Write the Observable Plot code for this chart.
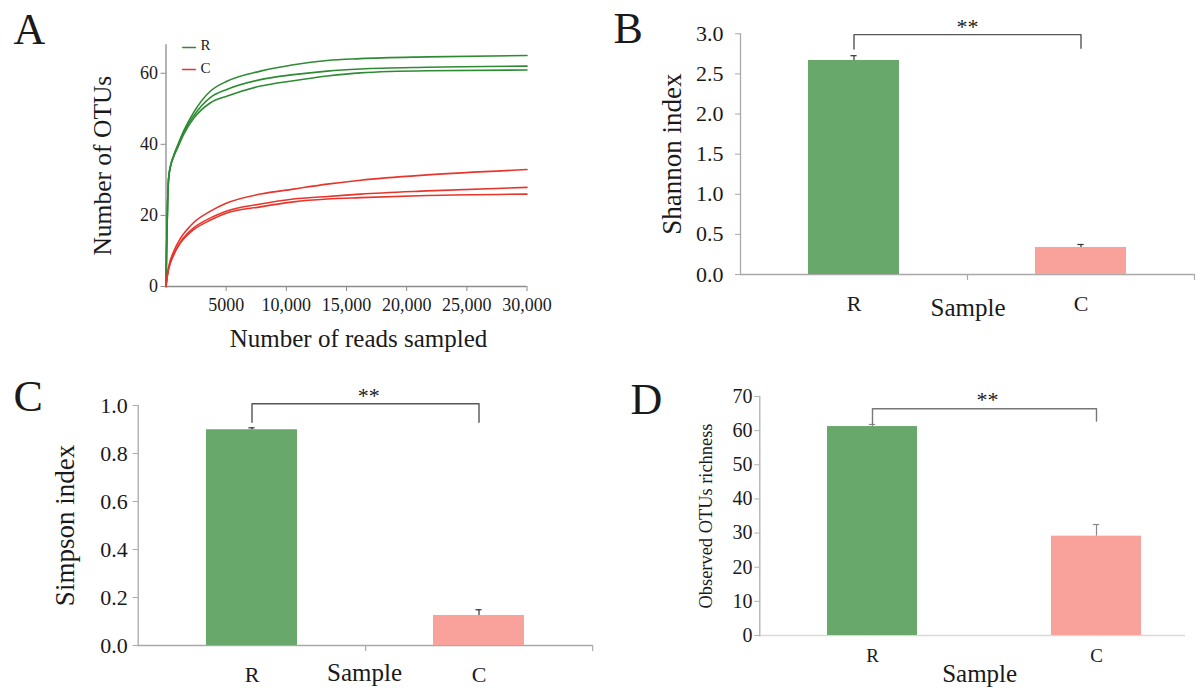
<!DOCTYPE html>
<html><head><meta charset="utf-8">
<script src="https://cdn.jsdelivr.net/npm/d3@7"></script>
<script src="https://cdn.jsdelivr.net/npm/@observablehq/plot@0.6"></script>
<style>
body{margin:0;background:#fff;}
#fig{position:relative;width:1199px;height:688px;overflow:hidden;background:#fff;}
#fig svg{position:absolute;overflow:visible;}
</style></head><body><div id="fig"></div>
<script>
// ---------- Panel A: rarefaction curves ----------
const groups = ["R", "C"];
const groupColors = ["#2e8b33", "#e8352c"];
const readsR = [0, 60, 130, 220, 400, 630, 1000, 1500, 2300, 3700, 5100, 7850, 10600, 13400, 16150, 21700, 30000];
const otusR1 = [0, 12, 23, 30.5, 34.2, 36.8, 40, 44, 49, 55, 57.8, 60.6, 62.4, 63.6, 64.1, 64.6, 65];
const otusR2 = [0, 12, 23, 30.5, 34.2, 36.6, 39.6, 43.5, 48, 53.2, 55.5, 58.2, 59.6, 60.6, 61.2, 61.7, 62];
const otusR3 = [0, 12, 23, 30.5, 34.2, 36.5, 39.3, 43, 47.3, 51.7, 53.6, 56.4, 57.9, 59.2, 60.1, 60.7, 60.9];
const readsC = [0, 100, 220, 630, 1190, 1750, 2300, 3700, 5000, 7850, 10600, 13400, 16150, 21700, 30000];
const otusC1 = [0, 3, 5.5, 9.8, 13.5, 16, 18, 21.2, 23.4, 26, 27.4, 28.8, 29.9, 31.4, 32.9];
const otusC2 = [0, 2.8, 5, 9, 12.5, 14.8, 16.5, 19.3, 21.2, 23.2, 24.6, 25.3, 26, 26.9, 27.9];
const otusC3 = [0, 2.8, 5, 8.8, 12.2, 14.4, 16, 18.7, 20.6, 22.4, 23.8, 24.6, 25, 25.6, 26];
const xTicksA = [5000, 10000, 15000, 20000, 25000, 30000];
const xTickLabelsA = ["5000", "10,000", "15,000", "20,000", "25,000", "30,000"];
const yTicksA = [0, 20, 40, 60];

// ---------- Panels B, C, D: alpha diversity bars ----------
const samples = ["R", "C"];
const barColors = ["#69a86b", "#f8a29b"];
const shannonMean = [2.668, 0.337];
const shannonUpper = [2.727, 0.374];
const shannonTicks = [0, 0.5, 1, 1.5, 2, 2.5, 3];
const shannonTickLabels = ["0.0", "0.5", "1.0", "1.5", "2.0", "2.5", "3.0"];
const shannonBracket = {top: 2.99, legs: [2.81, 2.82]};

const simpsonMean = [0.899, 0.125];
const simpsonUpper = [0.907, 0.149];
const simpsonTicks = [0, 0.2, 0.4, 0.6, 0.8, 1.0];
const simpsonTickLabels = ["0.0", "0.2", "0.4", "0.6", "0.8", "1.0"];
const simpsonBracket = {top: 1.007, legs: [0.93, 0.93]};

const richMean = [61.2, 29.1];
const richUpper = [61.8, 32.5];
const richTicks = [0, 10, 20, 30, 40, 50, 60, 70];
const richTickLabels = ["0", "10", "20", "30", "40", "50", "60", "70"];
const richBracket = {top: 66.4, legs: [62, 62.8]};

const FONT = "'Liberation Serif', 'Times New Roman', Times, serif";
const TEXT = "#1a1a1a";
const fig = document.getElementById("fig");

function place(svg, left, top) {
  svg.style.left = left + "px";
  svg.style.top = top + "px";
  fig.appendChild(svg);
}

// ---- Panel A ----
const curves = [];
[[readsR, otusR1, "R", 1], [readsR, otusR2, "R", 2], [readsR, otusR3, "R", 3],
 [readsC, otusC1, "C", 1], [readsC, otusC2, "C", 2], [readsC, otusC3, "C", 3]].forEach(([xs, ys, g, k]) => {
  xs.forEach((x, i) => curves.push({group: g, id: g + k, reads: x, otus: ys[i]}));
});

const legendMarks = [];
groups.forEach((g, i) => {
  legendMarks.push(Plot.text(["\u2014"], {frameAnchor: "top-left", dx: 16.5, dy: 0.7 + i * 22.4, textAnchor: "start", lineAnchor: "middle", fontSize: 13, fill: groupColors[i], stroke: groupColors[i], strokeWidth: 0.8}));
  legendMarks.push(Plot.text([g], {frameAnchor: "top-left", dx: 34.5, dy: 0.7 + i * 22.4, textAnchor: "start", lineAnchor: "middle", fontSize: 15, fill: TEXT}));
});

const plotA = Plot.plot({
  width: 600, height: 350,
  marginLeft: 165.5, marginRight: 73.5, marginTop: 44.3, marginBottom: 64,
  style: {fontFamily: FONT, background: "transparent", color: TEXT, overflow: "visible"},
  x: {domain: [0, 30000]},
  y: {domain: [0, 68]},
  color: {domain: groups, range: groupColors},
  marks: [
    Plot.ruleX([0], {stroke: "#8c8c8c", strokeWidth: 1.3}),
    Plot.ruleY([0], {stroke: "#8c8c8c", strokeWidth: 1.3}),
    Plot.line(curves, {x: "reads", y: "otus", z: "id", stroke: "group", strokeWidth: 1.6, curve: "monotone-x"}),
    Plot.axisY({ticks: yTicksA, tickSize: 5, tickPadding: 3, fontSize: 18, stroke: "#8c8c8c", label: null}),
    Plot.axisX({ticks: xTicksA, tickFormat: d => xTickLabelsA[xTicksA.indexOf(d)], tickSize: 5, tickPadding: 6.4, fontSize: 18, stroke: "#8c8c8c", label: null}),
    ...legendMarks,
    Plot.text(["A"], {frameAnchor: "top-left", dx: -152.5, dy: -1, textAnchor: "start", lineAnchor: "bottom", fontSize: 44, fill: TEXT}),
    Plot.text(["Number of OTUs"], {frameAnchor: "left", dx: -55.5, rotate: -90, textAnchor: "middle", lineAnchor: "bottom", fontSize: 25.5, fill: TEXT}),
    Plot.text(["Number of reads sampled"], {frameAnchor: "bottom", dx: 12, dy: 60, textAnchor: "middle", lineAnchor: "bottom", fontSize: 25, fill: TEXT})
  ]
});
place(plotA, 0, 0);

// ---- Bar panels ----
function barPanel(c) {
  const rows = samples.map((s, i) => ({sample: s, mean: c.means[i], upper: c.uppers[i]}));
  const innerW = c.w - c.mL - c.mR;
  const step = innerW / (samples.length - c.pi + 2 * c.po);
  const bandW = step * (1 - c.pi);
  const capInset = (bandW - 6) / 2;
  const br = [
    {sample: samples[0], y: c.bracket.legs[0]},
    {sample: samples[0], y: c.bracket.top},
    {sample: samples[1], y: c.bracket.top},
    {sample: samples[1], y: c.bracket.legs[1]}
  ];
  return Plot.plot({
    width: c.w, height: c.h,
    marginLeft: c.mL, marginRight: c.mR, marginTop: c.mT, marginBottom: c.mB,
    style: {fontFamily: FONT, background: "transparent", color: TEXT, overflow: "visible"},
    x: {type: "band", domain: samples, paddingInner: c.pi, paddingOuter: c.po, align: c.align},
    y: {domain: c.yDomain},
    color: {domain: samples, range: barColors},
    marks: [
      Plot.ruleY([0], {stroke: c.xAxisColor, strokeWidth: 1.5}),
      c.midTicks ? Plot.ruleX(samples, {x: d => d, y1: () => 0, y2: () => 0, insetBottom: -6, dx: step / 2, stroke: c.xAxisColor, strokeWidth: 1.2}) : null,
      Plot.frame({anchor: "left", stroke: c.yAxisColor, strokeWidth: 1.3}),
      Plot.barY(rows, {x: "sample", y: "mean", fill: "sample"}),
      Plot.ruleX(rows, {x: "sample", y1: "mean", y2: "upper", stroke: c.errColor, strokeWidth: 1.2}),
      Plot.tickY(rows, {x: "sample", y: "upper", insetLeft: capInset, insetRight: capInset, stroke: c.errColor, strokeWidth: 1.2}),
      Plot.line(br, {x: "sample", y: "y", stroke: c.bracketColor, strokeWidth: 1.4}),
      Plot.text([c.bracket.top], {x: () => samples[0], y: d => d, text: () => "**", dx: step / 2 + c.starDx, dy: c.starDy, lineAnchor: "bottom", fontSize: 22, fill: TEXT}),
      Plot.axisY({ticks: c.yTicks, tickFormat: d => c.yTickLabels[c.yTicks.indexOf(d)], tickSize: 5, tickPadding: c.yTickPad, fontSize: c.yTickFont, stroke: c.yAxisColor, label: null}),
      Plot.axisX({tickSize: 0, tickPadding: c.catPad, fontSize: c.catFont, label: null}),
      Plot.text([c.letter], {frameAnchor: "top-left", dx: c.letterDx, dy: c.letterDy, textAnchor: "start", lineAnchor: "bottom", fontSize: 44, fill: TEXT}),
      Plot.text([c.yTitle], {frameAnchor: "left", dx: c.yTitleDx, rotate: -90, textAnchor: "middle", lineAnchor: "bottom", fontSize: c.yTitleFont, fill: TEXT}),
      Plot.text(["Sample"], {frameAnchor: "bottom", dx: c.xTitleDx, dy: c.xTitleDy, textAnchor: "middle", lineAnchor: "bottom", fontSize: 25, fill: TEXT})
    ]
  });
}

const plotB = barPanel({
  w: 599, h: 330, mL: 140, mR: 5, mT: 33.3, mB: 56,
  pi: 0.6, po: 0.3, align: 0.5,
  yDomain: [0, 3], yTicks: shannonTicks, yTickLabels: shannonTickLabels,
  means: shannonMean, uppers: shannonUpper, bracket: shannonBracket,
  xAxisColor: "#a9a9a9", yAxisColor: "#a9a9a9", errColor: "#333", bracketColor: "#555",
  midTicks: true, starDx: 0, starDy: -1,
  yTickPad: 12, yTickFont: 22, catPad: 20.4, catFont: 22,
  letter: "B", letterDx: -127, letterDy: 8.7,
  yTitle: "Shannon index", yTitleDx: -60, yTitleFont: 27,
  xTitleDx: 0.5, xTitleDy: 41
});
place(plotB, 600, 0);

const plotC = barPanel({
  w: 600, h: 338, mL: 137.7, mR: 7.7, mT: 55, mB: 43,
  pi: 0.6, po: 0.3, align: 0.5,
  yDomain: [0, 1], yTicks: simpsonTicks, yTickLabels: simpsonTickLabels,
  means: simpsonMean, uppers: simpsonUpper, bracket: simpsonBracket,
  xAxisColor: "#a9a9a9", yAxisColor: "#a9a9a9", errColor: "#333", bracketColor: "#555",
  midTicks: true, starDx: 3, starDy: -1,
  yTickPad: 5.4, yTickFont: 22, catPad: 21, catFont: 22,
  letter: "C", letterDx: -124.7, letterDy: 5,
  yTitle: "Simpson index", yTitleDx: -64.7, yTitleFont: 27,
  xTitleDx: -1, xTitleDy: 35
});
place(plotC, 0, 350);

const plotD = barPanel({
  w: 599, h: 338, mL: 159.3, mR: 14, mT: 46, mB: 53,
  pi: 0.6, po: 0.25, align: 0.6,
  yDomain: [0, 70], yTicks: richTicks, yTickLabels: richTickLabels,
  means: richMean, uppers: richUpper, bracket: richBracket,
  xAxisColor: "#dadada", yAxisColor: "#b0b0b0", errColor: "#888", bracketColor: "#777",
  midTicks: false, starDx: 3, starDy: -2,
  yTickPad: 2.3, yTickFont: 20, catPad: 13.2, catFont: 19,
  letter: "D", letterDx: -129.3, letterDy: 17,
  yTitle: "Observed OTUs richness", yTitleDx: -48.3, yTitleFont: 18.4,
  xTitleDx: 7, xTitleDy: 46.7
});
place(plotD, 600, 350);
</script>
</body></html>
